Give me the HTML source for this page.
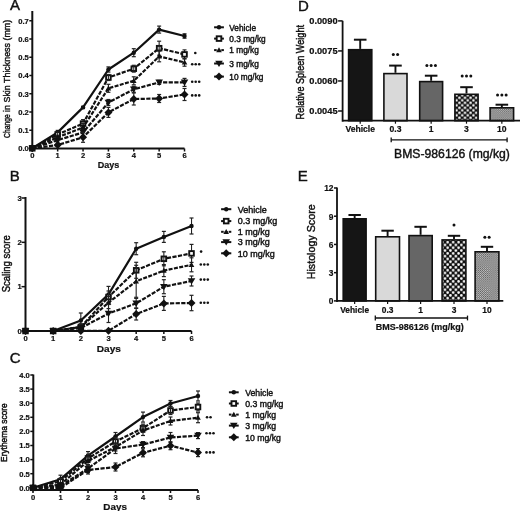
<!DOCTYPE html><html><head><meta charset="utf-8"><style>html,body{margin:0;padding:0;background:#fff;width:520px;height:511px;overflow:hidden}svg{display:block;filter:grayscale(1) blur(0.3px)}</style></head><body>
<svg width="520" height="511" viewBox="0 0 520 511" font-family='"Liberation Sans", sans-serif'>
<defs><pattern id="dotsD" x="458" y="96.55" width="5.6" height="5.0" patternUnits="userSpaceOnUse"><rect width="5.6" height="5.0" fill="#111"/><circle cx="1.4" cy="1.25" r="1.25" fill="#fff"/><circle cx="4.2" cy="3.75" r="1.25" fill="#fff"/></pattern><pattern id="dotsE" x="446.34" y="240.8" width="5.45" height="5.6" patternUnits="userSpaceOnUse"><rect width="5.45" height="5.6" fill="#111"/><circle cx="1.36" cy="1.4" r="1.3" fill="#fff"/><circle cx="4.09" cy="4.2" r="1.3" fill="#fff"/></pattern><pattern id="fine" x="0" y="0" width="2.1" height="2.1" patternUnits="userSpaceOnUse"><rect width="2.1" height="2.1" fill="#c8c8c8"/><rect width="1.05" height="1.05" fill="#5a5a5a"/><rect x="1.05" y="1.05" width="1.05" height="1.05" fill="#5a5a5a"/></pattern></defs>
<rect width="520" height="511" fill="#fff"/>
<line x1="32.3" y1="11" x2="32.3" y2="149.0" stroke="#111" stroke-width="2"/>
<line x1="31.299999999999997" y1="148.5" x2="184.5" y2="148.5" stroke="#111" stroke-width="2"/>
<line x1="29.299999999999997" y1="148.5" x2="32.3" y2="148.5" stroke="#111" stroke-width="1.5"/>
<text x="28.799999999999997" y="148.8" font-size="7.6" font-weight="bold" text-anchor="end" dominant-baseline="central" fill="#111" stroke="#111" stroke-width="0.2" >0.0</text>
<line x1="29.299999999999997" y1="130.25" x2="32.3" y2="130.25" stroke="#111" stroke-width="1.5"/>
<text x="28.799999999999997" y="130.55" font-size="7.6" font-weight="bold" text-anchor="end" dominant-baseline="central" fill="#111" stroke="#111" stroke-width="0.2" >0.1</text>
<line x1="29.299999999999997" y1="112.0" x2="32.3" y2="112.0" stroke="#111" stroke-width="1.5"/>
<text x="28.799999999999997" y="112.3" font-size="7.6" font-weight="bold" text-anchor="end" dominant-baseline="central" fill="#111" stroke="#111" stroke-width="0.2" >0.2</text>
<line x1="29.299999999999997" y1="93.75" x2="32.3" y2="93.75" stroke="#111" stroke-width="1.5"/>
<text x="28.799999999999997" y="94.05" font-size="7.6" font-weight="bold" text-anchor="end" dominant-baseline="central" fill="#111" stroke="#111" stroke-width="0.2" >0.3</text>
<line x1="29.299999999999997" y1="75.5" x2="32.3" y2="75.5" stroke="#111" stroke-width="1.5"/>
<text x="28.799999999999997" y="75.8" font-size="7.6" font-weight="bold" text-anchor="end" dominant-baseline="central" fill="#111" stroke="#111" stroke-width="0.2" >0.4</text>
<line x1="29.299999999999997" y1="57.25" x2="32.3" y2="57.25" stroke="#111" stroke-width="1.5"/>
<text x="28.799999999999997" y="57.55" font-size="7.6" font-weight="bold" text-anchor="end" dominant-baseline="central" fill="#111" stroke="#111" stroke-width="0.2" >0.5</text>
<line x1="29.299999999999997" y1="39.0" x2="32.3" y2="39.0" stroke="#111" stroke-width="1.5"/>
<text x="28.799999999999997" y="39.3" font-size="7.6" font-weight="bold" text-anchor="end" dominant-baseline="central" fill="#111" stroke="#111" stroke-width="0.2" >0.6</text>
<line x1="29.299999999999997" y1="20.750000000000014" x2="32.3" y2="20.750000000000014" stroke="#111" stroke-width="1.5"/>
<text x="28.799999999999997" y="21.050000000000015" font-size="7.6" font-weight="bold" text-anchor="end" dominant-baseline="central" fill="#111" stroke="#111" stroke-width="0.2" >0.7</text>
<line x1="32.3" y1="148.5" x2="32.3" y2="151.5" stroke="#111" stroke-width="1.5"/>
<text x="32.3" y="155.5" font-size="7.6" font-weight="bold" text-anchor="middle" dominant-baseline="central" fill="#111" stroke="#111" stroke-width="0.2" >0</text>
<line x1="57.67" y1="148.5" x2="57.67" y2="151.5" stroke="#111" stroke-width="1.5"/>
<text x="57.67" y="155.5" font-size="7.6" font-weight="bold" text-anchor="middle" dominant-baseline="central" fill="#111" stroke="#111" stroke-width="0.2" >1</text>
<line x1="83.03999999999999" y1="148.5" x2="83.03999999999999" y2="151.5" stroke="#111" stroke-width="1.5"/>
<text x="83.03999999999999" y="155.5" font-size="7.6" font-weight="bold" text-anchor="middle" dominant-baseline="central" fill="#111" stroke="#111" stroke-width="0.2" >2</text>
<line x1="108.41" y1="148.5" x2="108.41" y2="151.5" stroke="#111" stroke-width="1.5"/>
<text x="108.41" y="155.5" font-size="7.6" font-weight="bold" text-anchor="middle" dominant-baseline="central" fill="#111" stroke="#111" stroke-width="0.2" >3</text>
<line x1="133.78" y1="148.5" x2="133.78" y2="151.5" stroke="#111" stroke-width="1.5"/>
<text x="133.78" y="155.5" font-size="7.6" font-weight="bold" text-anchor="middle" dominant-baseline="central" fill="#111" stroke="#111" stroke-width="0.2" >4</text>
<line x1="159.15" y1="148.5" x2="159.15" y2="151.5" stroke="#111" stroke-width="1.5"/>
<text x="159.15" y="155.5" font-size="7.6" font-weight="bold" text-anchor="middle" dominant-baseline="central" fill="#111" stroke="#111" stroke-width="0.2" >5</text>
<line x1="184.51999999999998" y1="148.5" x2="184.51999999999998" y2="151.5" stroke="#111" stroke-width="1.5"/>
<text x="184.51999999999998" y="155.5" font-size="7.6" font-weight="bold" text-anchor="middle" dominant-baseline="central" fill="#111" stroke="#111" stroke-width="0.2" >6</text>
<text x="108.5" y="165.2" font-size="9" font-weight="bold" text-anchor="middle" dominant-baseline="central" fill="#111" stroke="#111" stroke-width="0.2" >Days</text>
<text x="0" y="0" font-size="8.6" text-anchor="start" dominant-baseline="central" transform="translate(7.3 137.9) rotate(-90)" fill="#111" stroke="#111" stroke-width="0.4" textLength="23.6" lengthAdjust="spacingAndGlyphs">Change</text>
<text x="0" y="0" font-size="8.9" text-anchor="start" dominant-baseline="central" transform="translate(7.3 111.9) rotate(-90)" fill="#111" stroke="#111" stroke-width="0.4">in Skin Thickness (mm)</text>
<text x="10.0" y="10.4" font-size="15" text-anchor="start" fill="#111" stroke="#111" stroke-width="0.4" >A</text>
<line x1="57.67" y1="130.4" x2="57.67" y2="134.4" stroke="#222" stroke-width="1.1"/>
<line x1="55.67" y1="130.4" x2="59.67" y2="130.4" stroke="#222" stroke-width="1.2"/>
<line x1="55.67" y1="134.4" x2="59.67" y2="134.4" stroke="#222" stroke-width="1.2"/>
<line x1="83.03999999999999" y1="106.4" x2="83.03999999999999" y2="108.4" stroke="#222" stroke-width="1.1"/>
<line x1="81.03999999999999" y1="106.4" x2="85.03999999999999" y2="106.4" stroke="#222" stroke-width="1.2"/>
<line x1="81.03999999999999" y1="108.4" x2="85.03999999999999" y2="108.4" stroke="#222" stroke-width="1.2"/>
<line x1="108.41" y1="66.9" x2="108.41" y2="72.1" stroke="#222" stroke-width="1.1"/>
<line x1="106.41" y1="66.9" x2="110.41" y2="66.9" stroke="#222" stroke-width="1.2"/>
<line x1="106.41" y1="72.1" x2="110.41" y2="72.1" stroke="#222" stroke-width="1.2"/>
<line x1="133.78" y1="48.7" x2="133.78" y2="56.7" stroke="#222" stroke-width="1.1"/>
<line x1="131.78" y1="48.7" x2="135.78" y2="48.7" stroke="#222" stroke-width="1.2"/>
<line x1="131.78" y1="56.7" x2="135.78" y2="56.7" stroke="#222" stroke-width="1.2"/>
<line x1="159.15" y1="26.1" x2="159.15" y2="33.1" stroke="#222" stroke-width="1.1"/>
<line x1="157.15" y1="26.1" x2="161.15" y2="26.1" stroke="#222" stroke-width="1.2"/>
<line x1="157.15" y1="33.1" x2="161.15" y2="33.1" stroke="#222" stroke-width="1.2"/>
<line x1="184.51999999999998" y1="33.8" x2="184.51999999999998" y2="38.2" stroke="#222" stroke-width="1.1"/>
<line x1="182.51999999999998" y1="33.8" x2="186.51999999999998" y2="33.8" stroke="#222" stroke-width="1.2"/>
<line x1="182.51999999999998" y1="38.2" x2="186.51999999999998" y2="38.2" stroke="#222" stroke-width="1.2"/>
<polyline points="32.30,148.30 57.67,132.40 83.04,107.40 108.41,69.50 133.78,52.70 159.15,29.60 184.52,36.00" fill="none" stroke="#111" stroke-width="2.2" stroke-linejoin="round"/>
<circle cx="32.3" cy="148.3" r="2.2" fill="#111"/>
<circle cx="57.67" cy="132.4" r="2.2" fill="#111"/>
<circle cx="83.03999999999999" cy="107.4" r="2.2" fill="#111"/>
<circle cx="108.41" cy="69.5" r="2.2" fill="#111"/>
<circle cx="133.78" cy="52.7" r="2.2" fill="#111"/>
<circle cx="159.15" cy="29.6" r="2.2" fill="#111"/>
<circle cx="184.51999999999998" cy="36.0" r="2.2" fill="#111"/>
<line x1="184.51999999999998" y1="49.9" x2="184.51999999999998" y2="58.9" stroke="#222" stroke-width="1.1"/>
<line x1="182.51999999999998" y1="49.9" x2="186.51999999999998" y2="49.9" stroke="#222" stroke-width="1.2"/>
<line x1="182.51999999999998" y1="58.9" x2="186.51999999999998" y2="58.9" stroke="#222" stroke-width="1.2"/>
<polyline points="32.30,148.30 57.67,134.40 83.04,123.60 108.41,77.50 133.78,68.70 159.15,48.20 184.52,54.40" fill="none" stroke="#111" stroke-width="2.2" stroke-linejoin="round" stroke-dasharray="4.2 1.4"/>
<rect x="29.999999999999996" y="146.0" width="4.6" height="4.6" fill="#fff" stroke="#111" stroke-width="1.9"/>
<rect x="55.370000000000005" y="132.1" width="4.6" height="4.6" fill="#fff" stroke="#111" stroke-width="1.9"/>
<rect x="80.74" y="121.3" width="4.6" height="4.6" fill="#fff" stroke="#111" stroke-width="1.9"/>
<rect x="106.11" y="75.2" width="4.6" height="4.6" fill="#fff" stroke="#111" stroke-width="1.9"/>
<rect x="131.48" y="66.4" width="4.6" height="4.6" fill="#fff" stroke="#111" stroke-width="1.9"/>
<rect x="156.85" y="45.900000000000006" width="4.6" height="4.6" fill="#fff" stroke="#111" stroke-width="1.9"/>
<rect x="182.21999999999997" y="52.1" width="4.6" height="4.6" fill="#fff" stroke="#111" stroke-width="1.9"/>
<line x1="57.67" y1="131.9" x2="57.67" y2="136.9" stroke="#222" stroke-width="1.1"/>
<line x1="55.67" y1="131.9" x2="59.67" y2="131.9" stroke="#222" stroke-width="1.2"/>
<line x1="55.67" y1="136.9" x2="59.67" y2="136.9" stroke="#222" stroke-width="1.2"/>
<line x1="83.03999999999999" y1="119.6" x2="83.03999999999999" y2="127.6" stroke="#222" stroke-width="1.1"/>
<line x1="81.03999999999999" y1="119.6" x2="85.03999999999999" y2="119.6" stroke="#222" stroke-width="1.2"/>
<line x1="81.03999999999999" y1="127.6" x2="85.03999999999999" y2="127.6" stroke="#222" stroke-width="1.2"/>
<line x1="108.41" y1="74.5" x2="108.41" y2="80.5" stroke="#222" stroke-width="1.1"/>
<line x1="106.41" y1="74.5" x2="110.41" y2="74.5" stroke="#222" stroke-width="1.2"/>
<line x1="106.41" y1="80.5" x2="110.41" y2="80.5" stroke="#222" stroke-width="1.2"/>
<line x1="133.78" y1="65.3" x2="133.78" y2="72.10000000000001" stroke="#222" stroke-width="1.1"/>
<line x1="131.78" y1="65.3" x2="135.78" y2="65.3" stroke="#222" stroke-width="1.2"/>
<line x1="131.78" y1="72.10000000000001" x2="135.78" y2="72.10000000000001" stroke="#222" stroke-width="1.2"/>
<line x1="159.15" y1="41.2" x2="159.15" y2="55.2" stroke="#222" stroke-width="1.1"/>
<line x1="157.15" y1="41.2" x2="161.15" y2="41.2" stroke="#222" stroke-width="1.2"/>
<line x1="157.15" y1="55.2" x2="161.15" y2="55.2" stroke="#222" stroke-width="1.2"/>
<line x1="57.67" y1="135.3" x2="57.67" y2="139.3" stroke="#222" stroke-width="1.1"/>
<line x1="55.67" y1="135.3" x2="59.67" y2="135.3" stroke="#222" stroke-width="1.2"/>
<line x1="55.67" y1="139.3" x2="59.67" y2="139.3" stroke="#222" stroke-width="1.2"/>
<line x1="83.03999999999999" y1="123.5" x2="83.03999999999999" y2="131.5" stroke="#222" stroke-width="1.1"/>
<line x1="81.03999999999999" y1="123.5" x2="85.03999999999999" y2="123.5" stroke="#222" stroke-width="1.2"/>
<line x1="81.03999999999999" y1="131.5" x2="85.03999999999999" y2="131.5" stroke="#222" stroke-width="1.2"/>
<line x1="108.41" y1="84.3" x2="108.41" y2="92.3" stroke="#222" stroke-width="1.1"/>
<line x1="106.41" y1="84.3" x2="110.41" y2="84.3" stroke="#222" stroke-width="1.2"/>
<line x1="106.41" y1="92.3" x2="110.41" y2="92.3" stroke="#222" stroke-width="1.2"/>
<line x1="133.78" y1="76.8" x2="133.78" y2="84.8" stroke="#222" stroke-width="1.1"/>
<line x1="131.78" y1="76.8" x2="135.78" y2="76.8" stroke="#222" stroke-width="1.2"/>
<line x1="131.78" y1="84.8" x2="135.78" y2="84.8" stroke="#222" stroke-width="1.2"/>
<line x1="159.15" y1="51.0" x2="159.15" y2="61.8" stroke="#222" stroke-width="1.1"/>
<line x1="157.15" y1="51.0" x2="161.15" y2="51.0" stroke="#222" stroke-width="1.2"/>
<line x1="157.15" y1="61.8" x2="161.15" y2="61.8" stroke="#222" stroke-width="1.2"/>
<line x1="184.51999999999998" y1="58.6" x2="184.51999999999998" y2="66.2" stroke="#222" stroke-width="1.1"/>
<line x1="182.51999999999998" y1="58.6" x2="186.51999999999998" y2="58.6" stroke="#222" stroke-width="1.2"/>
<line x1="182.51999999999998" y1="66.2" x2="186.51999999999998" y2="66.2" stroke="#222" stroke-width="1.2"/>
<polyline points="32.30,148.30 57.67,137.30 83.04,127.50 108.41,88.30 133.78,80.80 159.15,56.40 184.52,62.40" fill="none" stroke="#111" stroke-width="2.2" stroke-linejoin="round" stroke-dasharray="4 1.4"/>
<polygon points="32.3,145.4 35.099999999999994,150.4 29.499999999999996,150.4" fill="#111"/>
<polygon points="57.67,134.4 60.47,139.4 54.870000000000005,139.4" fill="#111"/>
<polygon points="83.03999999999999,124.6 85.83999999999999,129.6 80.24,129.6" fill="#111"/>
<polygon points="108.41,85.39999999999999 111.21,90.39999999999999 105.61,90.39999999999999" fill="#111"/>
<polygon points="133.78,77.89999999999999 136.58,82.89999999999999 130.98,82.89999999999999" fill="#111"/>
<polygon points="159.15,53.5 161.95000000000002,58.5 156.35,58.5" fill="#111"/>
<polygon points="184.51999999999998,59.5 187.32,64.5 181.71999999999997,64.5" fill="#111"/>
<line x1="57.67" y1="138.2" x2="57.67" y2="142.2" stroke="#222" stroke-width="1.1"/>
<line x1="55.67" y1="138.2" x2="59.67" y2="138.2" stroke="#222" stroke-width="1.2"/>
<line x1="55.67" y1="142.2" x2="59.67" y2="142.2" stroke="#222" stroke-width="1.2"/>
<line x1="83.03999999999999" y1="129.4" x2="83.03999999999999" y2="135.4" stroke="#222" stroke-width="1.1"/>
<line x1="81.03999999999999" y1="129.4" x2="85.03999999999999" y2="129.4" stroke="#222" stroke-width="1.2"/>
<line x1="81.03999999999999" y1="135.4" x2="85.03999999999999" y2="135.4" stroke="#222" stroke-width="1.2"/>
<line x1="108.41" y1="99.5" x2="108.41" y2="105.5" stroke="#222" stroke-width="1.1"/>
<line x1="106.41" y1="99.5" x2="110.41" y2="99.5" stroke="#222" stroke-width="1.2"/>
<line x1="106.41" y1="105.5" x2="110.41" y2="105.5" stroke="#222" stroke-width="1.2"/>
<line x1="133.78" y1="86.3" x2="133.78" y2="92.3" stroke="#222" stroke-width="1.1"/>
<line x1="131.78" y1="86.3" x2="135.78" y2="86.3" stroke="#222" stroke-width="1.2"/>
<line x1="131.78" y1="92.3" x2="135.78" y2="92.3" stroke="#222" stroke-width="1.2"/>
<line x1="159.15" y1="80.4" x2="159.15" y2="84.4" stroke="#222" stroke-width="1.1"/>
<line x1="157.15" y1="80.4" x2="161.15" y2="80.4" stroke="#222" stroke-width="1.2"/>
<line x1="157.15" y1="84.4" x2="161.15" y2="84.4" stroke="#222" stroke-width="1.2"/>
<line x1="184.51999999999998" y1="78.4" x2="184.51999999999998" y2="86.4" stroke="#222" stroke-width="1.1"/>
<line x1="182.51999999999998" y1="78.4" x2="186.51999999999998" y2="78.4" stroke="#222" stroke-width="1.2"/>
<line x1="182.51999999999998" y1="86.4" x2="186.51999999999998" y2="86.4" stroke="#222" stroke-width="1.2"/>
<polyline points="32.30,148.30 57.67,140.20 83.04,132.40 108.41,102.50 133.78,89.30 159.15,82.40 184.52,82.40" fill="none" stroke="#111" stroke-width="2.2" stroke-linejoin="round" stroke-dasharray="4.2 1.4"/>
<polygon points="32.3,151.8 36.099999999999994,145.5 28.499999999999996,145.5" fill="#111"/>
<polygon points="57.67,143.7 61.47,137.39999999999998 53.870000000000005,137.39999999999998" fill="#111"/>
<polygon points="83.03999999999999,135.9 86.83999999999999,129.6 79.24,129.6" fill="#111"/>
<polygon points="108.41,106.0 112.21,99.7 104.61,99.7" fill="#111"/>
<polygon points="133.78,92.8 137.58,86.5 129.98,86.5" fill="#111"/>
<polygon points="159.15,85.9 162.95000000000002,79.60000000000001 155.35,79.60000000000001" fill="#111"/>
<polygon points="184.51999999999998,85.9 188.32,79.60000000000001 180.71999999999997,79.60000000000001" fill="#111"/>
<line x1="57.67" y1="143.5" x2="57.67" y2="146.5" stroke="#222" stroke-width="1.1"/>
<line x1="55.67" y1="143.5" x2="59.67" y2="143.5" stroke="#222" stroke-width="1.2"/>
<line x1="55.67" y1="146.5" x2="59.67" y2="146.5" stroke="#222" stroke-width="1.2"/>
<line x1="83.03999999999999" y1="132.3" x2="83.03999999999999" y2="142.3" stroke="#222" stroke-width="1.1"/>
<line x1="81.03999999999999" y1="132.3" x2="85.03999999999999" y2="132.3" stroke="#222" stroke-width="1.2"/>
<line x1="81.03999999999999" y1="142.3" x2="85.03999999999999" y2="142.3" stroke="#222" stroke-width="1.2"/>
<line x1="108.41" y1="107.4" x2="108.41" y2="117.4" stroke="#222" stroke-width="1.1"/>
<line x1="106.41" y1="107.4" x2="110.41" y2="107.4" stroke="#222" stroke-width="1.2"/>
<line x1="106.41" y1="117.4" x2="110.41" y2="117.4" stroke="#222" stroke-width="1.2"/>
<line x1="133.78" y1="93.0" x2="133.78" y2="105.0" stroke="#222" stroke-width="1.1"/>
<line x1="131.78" y1="93.0" x2="135.78" y2="93.0" stroke="#222" stroke-width="1.2"/>
<line x1="131.78" y1="105.0" x2="135.78" y2="105.0" stroke="#222" stroke-width="1.2"/>
<line x1="159.15" y1="94.5" x2="159.15" y2="102.5" stroke="#222" stroke-width="1.1"/>
<line x1="157.15" y1="94.5" x2="161.15" y2="94.5" stroke="#222" stroke-width="1.2"/>
<line x1="157.15" y1="102.5" x2="161.15" y2="102.5" stroke="#222" stroke-width="1.2"/>
<line x1="184.51999999999998" y1="88.5" x2="184.51999999999998" y2="100.5" stroke="#222" stroke-width="1.1"/>
<line x1="182.51999999999998" y1="88.5" x2="186.51999999999998" y2="88.5" stroke="#222" stroke-width="1.2"/>
<line x1="182.51999999999998" y1="100.5" x2="186.51999999999998" y2="100.5" stroke="#222" stroke-width="1.2"/>
<polyline points="32.30,148.30 57.67,145.00 83.04,137.30 108.41,112.40 133.78,99.00 159.15,98.50 184.52,94.50" fill="none" stroke="#111" stroke-width="2.2" stroke-linejoin="round" stroke-dasharray="4.2 1.4"/>
<polygon points="32.3,144.3 36.3,148.3 32.3,152.3 28.299999999999997,148.3" fill="#111"/>
<polygon points="57.67,141.0 61.67,145.0 57.67,149.0 53.67,145.0" fill="#111"/>
<polygon points="83.03999999999999,133.3 87.03999999999999,137.3 83.03999999999999,141.3 79.03999999999999,137.3" fill="#111"/>
<polygon points="108.41,108.4 112.41,112.4 108.41,116.4 104.41,112.4" fill="#111"/>
<polygon points="133.78,95.0 137.78,99.0 133.78,103.0 129.78,99.0" fill="#111"/>
<polygon points="159.15,94.5 163.15,98.5 159.15,102.5 155.15,98.5" fill="#111"/>
<polygon points="184.51999999999998,90.5 188.51999999999998,94.5 184.51999999999998,98.5 180.51999999999998,94.5" fill="#111"/>
<circle cx="195.30" cy="53.0" r="1.3" fill="#111"/>
<circle cx="192.20" cy="64.2" r="1.3" fill="#111"/>
<circle cx="195.70" cy="64.2" r="1.3" fill="#111"/>
<circle cx="199.20" cy="64.2" r="1.3" fill="#111"/>
<circle cx="192.20" cy="81.7" r="1.3" fill="#111"/>
<circle cx="195.70" cy="81.7" r="1.3" fill="#111"/>
<circle cx="199.20" cy="81.7" r="1.3" fill="#111"/>
<circle cx="192.20" cy="95.4" r="1.3" fill="#111"/>
<circle cx="195.70" cy="95.4" r="1.3" fill="#111"/>
<circle cx="199.20" cy="95.4" r="1.3" fill="#111"/>
<line x1="214.1" y1="27.3" x2="223.9" y2="27.3" stroke="#111" stroke-width="2"/>
<circle cx="219.0" cy="27.3" r="2.2" fill="#111"/>
<text x="229.3" y="27.6" font-size="8.3" text-anchor="start" dominant-baseline="central" fill="#111" stroke="#111" stroke-width="0.4" >Vehicle</text>
<line x1="214.1" y1="38.6" x2="223.9" y2="38.6" stroke="#111" stroke-width="2"/>
<rect x="216.7" y="36.300000000000004" width="4.6" height="4.6" fill="#fff" stroke="#111" stroke-width="1.9"/>
<text x="229.3" y="38.9" font-size="8.3" text-anchor="start" dominant-baseline="central" fill="#111" stroke="#111" stroke-width="0.4" >0.3 mg/kg</text>
<line x1="214.1" y1="50.1" x2="216.7" y2="50.1" stroke="#111" stroke-width="2"/>
<line x1="221.3" y1="50.1" x2="223.9" y2="50.1" stroke="#111" stroke-width="2"/>
<line x1="217.7" y1="50.1" x2="220.3" y2="50.1" stroke="#111" stroke-width="1.6"/>
<polygon points="219.0,47.2 221.8,52.2 216.2,52.2" fill="#111"/>
<text x="229.3" y="50.4" font-size="8.3" text-anchor="start" dominant-baseline="central" fill="#111" stroke="#111" stroke-width="0.4" >1 mg/kg</text>
<line x1="214.1" y1="63.5" x2="223.9" y2="63.5" stroke="#111" stroke-width="2"/>
<polygon points="219.0,67.0 222.8,60.7 215.2,60.7" fill="#111"/>
<text x="229.3" y="63.8" font-size="8.3" text-anchor="start" dominant-baseline="central" fill="#111" stroke="#111" stroke-width="0.4" >3 mg/kg</text>
<line x1="214.1" y1="76.6" x2="223.9" y2="76.6" stroke="#111" stroke-width="2"/>
<polygon points="219.0,72.6 223.0,76.6 219.0,80.6 215.0,76.6" fill="#111"/>
<text x="229.3" y="76.89999999999999" font-size="8.3" text-anchor="start" dominant-baseline="central" fill="#111" stroke="#111" stroke-width="0.4" >10 mg/kg</text>
<line x1="25.5" y1="197" x2="25.5" y2="331.5" stroke="#111" stroke-width="2"/>
<line x1="24.5" y1="331" x2="191.5" y2="331" stroke="#111" stroke-width="2"/>
<line x1="21.5" y1="331.0" x2="25.5" y2="331.0" stroke="#111" stroke-width="1.5"/>
<text x="21.7" y="331.3" font-size="7.6" font-weight="bold" text-anchor="end" dominant-baseline="central" fill="#111" stroke="#111" stroke-width="0.2" >0</text>
<line x1="21.5" y1="286.67" x2="25.5" y2="286.67" stroke="#111" stroke-width="1.5"/>
<text x="21.7" y="286.97" font-size="7.6" font-weight="bold" text-anchor="end" dominant-baseline="central" fill="#111" stroke="#111" stroke-width="0.2" >1</text>
<line x1="21.5" y1="242.34" x2="25.5" y2="242.34" stroke="#111" stroke-width="1.5"/>
<text x="21.7" y="242.64000000000001" font-size="7.6" font-weight="bold" text-anchor="end" dominant-baseline="central" fill="#111" stroke="#111" stroke-width="0.2" >2</text>
<line x1="21.5" y1="198.01" x2="25.5" y2="198.01" stroke="#111" stroke-width="1.5"/>
<text x="21.7" y="198.31" font-size="7.6" font-weight="bold" text-anchor="end" dominant-baseline="central" fill="#111" stroke="#111" stroke-width="0.2" >3</text>
<line x1="25.5" y1="331" x2="25.5" y2="334" stroke="#111" stroke-width="1.5"/>
<text x="25.5" y="338.7" font-size="7.6" font-weight="bold" text-anchor="middle" dominant-baseline="central" fill="#111" stroke="#111" stroke-width="0.2" >0</text>
<line x1="53.17" y1="331" x2="53.17" y2="334" stroke="#111" stroke-width="1.5"/>
<text x="53.17" y="338.7" font-size="7.6" font-weight="bold" text-anchor="middle" dominant-baseline="central" fill="#111" stroke="#111" stroke-width="0.2" >1</text>
<line x1="80.84" y1="331" x2="80.84" y2="334" stroke="#111" stroke-width="1.5"/>
<text x="80.84" y="338.7" font-size="7.6" font-weight="bold" text-anchor="middle" dominant-baseline="central" fill="#111" stroke="#111" stroke-width="0.2" >2</text>
<line x1="108.51" y1="331" x2="108.51" y2="334" stroke="#111" stroke-width="1.5"/>
<text x="108.51" y="338.7" font-size="7.6" font-weight="bold" text-anchor="middle" dominant-baseline="central" fill="#111" stroke="#111" stroke-width="0.2" >3</text>
<line x1="136.18" y1="331" x2="136.18" y2="334" stroke="#111" stroke-width="1.5"/>
<text x="136.18" y="338.7" font-size="7.6" font-weight="bold" text-anchor="middle" dominant-baseline="central" fill="#111" stroke="#111" stroke-width="0.2" >4</text>
<line x1="163.85000000000002" y1="331" x2="163.85000000000002" y2="334" stroke="#111" stroke-width="1.5"/>
<text x="163.85000000000002" y="338.7" font-size="7.6" font-weight="bold" text-anchor="middle" dominant-baseline="central" fill="#111" stroke="#111" stroke-width="0.2" >5</text>
<line x1="191.52" y1="331" x2="191.52" y2="334" stroke="#111" stroke-width="1.5"/>
<text x="191.52" y="338.7" font-size="7.6" font-weight="bold" text-anchor="middle" dominant-baseline="central" fill="#111" stroke="#111" stroke-width="0.2" >6</text>
<text x="108.8" y="348.8" font-size="9" font-weight="bold" text-anchor="middle" dominant-baseline="central" transform="translate(108.8 348.8) scale(1.12 1) translate(-108.8 -348.8)" fill="#111" stroke="#111" stroke-width="0.2" >Days</text>
<text x="0" y="0" font-size="9.5" text-anchor="middle" dominant-baseline="central" transform="translate(5.8 263.8) scale(1.13 1) rotate(-90)" fill="#111" stroke="#111" stroke-width="0.4" >Scaling score</text>
<text x="9.7" y="181.3" font-size="15" text-anchor="start" fill="#111" stroke="#111" stroke-width="0.4" >B</text>
<line x1="80.84" y1="313.0" x2="80.84" y2="328.0" stroke="#222" stroke-width="1.1"/>
<line x1="78.84" y1="313.0" x2="82.84" y2="313.0" stroke="#222" stroke-width="1.2"/>
<line x1="78.84" y1="328.0" x2="82.84" y2="328.0" stroke="#222" stroke-width="1.2"/>
<line x1="108.51" y1="286.4" x2="108.51" y2="302.4" stroke="#222" stroke-width="1.1"/>
<line x1="106.51" y1="286.4" x2="110.51" y2="286.4" stroke="#222" stroke-width="1.2"/>
<line x1="106.51" y1="302.4" x2="110.51" y2="302.4" stroke="#222" stroke-width="1.2"/>
<line x1="136.18" y1="242.7" x2="136.18" y2="254.7" stroke="#222" stroke-width="1.1"/>
<line x1="134.18" y1="242.7" x2="138.18" y2="242.7" stroke="#222" stroke-width="1.2"/>
<line x1="134.18" y1="254.7" x2="138.18" y2="254.7" stroke="#222" stroke-width="1.2"/>
<line x1="163.85000000000002" y1="231.4" x2="163.85000000000002" y2="242.4" stroke="#222" stroke-width="1.1"/>
<line x1="161.85000000000002" y1="231.4" x2="165.85000000000002" y2="231.4" stroke="#222" stroke-width="1.2"/>
<line x1="161.85000000000002" y1="242.4" x2="165.85000000000002" y2="242.4" stroke="#222" stroke-width="1.2"/>
<line x1="191.52" y1="218.0" x2="191.52" y2="234.0" stroke="#222" stroke-width="1.1"/>
<line x1="189.52" y1="218.0" x2="193.52" y2="218.0" stroke="#222" stroke-width="1.2"/>
<line x1="189.52" y1="234.0" x2="193.52" y2="234.0" stroke="#222" stroke-width="1.2"/>
<polyline points="25.50,331.00 53.17,331.00 80.84,320.50 108.51,294.40 136.18,248.70 163.85,236.90 191.52,226.00" fill="none" stroke="#111" stroke-width="2.2" stroke-linejoin="round"/>
<circle cx="25.5" cy="331" r="2.2" fill="#111"/>
<circle cx="53.17" cy="331" r="2.2" fill="#111"/>
<circle cx="80.84" cy="320.5" r="2.2" fill="#111"/>
<circle cx="108.51" cy="294.4" r="2.2" fill="#111"/>
<circle cx="136.18" cy="248.7" r="2.2" fill="#111"/>
<circle cx="163.85000000000002" cy="236.9" r="2.2" fill="#111"/>
<circle cx="191.52" cy="226.0" r="2.2" fill="#111"/>
<line x1="191.52" y1="244.4" x2="191.52" y2="262.4" stroke="#222" stroke-width="1.1"/>
<line x1="189.52" y1="244.4" x2="193.52" y2="244.4" stroke="#222" stroke-width="1.2"/>
<line x1="189.52" y1="262.4" x2="193.52" y2="262.4" stroke="#222" stroke-width="1.2"/>
<polyline points="25.50,331.00 53.17,331.00 80.84,327.00 108.51,297.00 136.18,270.30 163.85,258.80 191.52,253.40" fill="none" stroke="#111" stroke-width="2.2" stroke-linejoin="round" stroke-dasharray="4.2 1.4"/>
<rect x="23.2" y="328.7" width="4.6" height="4.6" fill="#fff" stroke="#111" stroke-width="1.9"/>
<rect x="50.870000000000005" y="328.7" width="4.6" height="4.6" fill="#fff" stroke="#111" stroke-width="1.9"/>
<rect x="78.54" y="324.7" width="4.6" height="4.6" fill="#fff" stroke="#111" stroke-width="1.9"/>
<rect x="106.21000000000001" y="294.7" width="4.6" height="4.6" fill="#fff" stroke="#111" stroke-width="1.9"/>
<rect x="133.88" y="268.0" width="4.6" height="4.6" fill="#fff" stroke="#111" stroke-width="1.9"/>
<rect x="161.55" y="256.5" width="4.6" height="4.6" fill="#fff" stroke="#111" stroke-width="1.9"/>
<rect x="189.22" y="251.1" width="4.6" height="4.6" fill="#fff" stroke="#111" stroke-width="1.9"/>
<line x1="80.84" y1="324.0" x2="80.84" y2="330.0" stroke="#222" stroke-width="1.1"/>
<line x1="78.84" y1="324.0" x2="82.84" y2="324.0" stroke="#222" stroke-width="1.2"/>
<line x1="78.84" y1="330.0" x2="82.84" y2="330.0" stroke="#222" stroke-width="1.2"/>
<line x1="108.51" y1="291.0" x2="108.51" y2="303.0" stroke="#222" stroke-width="1.1"/>
<line x1="106.51" y1="291.0" x2="110.51" y2="291.0" stroke="#222" stroke-width="1.2"/>
<line x1="106.51" y1="303.0" x2="110.51" y2="303.0" stroke="#222" stroke-width="1.2"/>
<line x1="136.18" y1="262.3" x2="136.18" y2="278.3" stroke="#222" stroke-width="1.1"/>
<line x1="134.18" y1="262.3" x2="138.18" y2="262.3" stroke="#222" stroke-width="1.2"/>
<line x1="134.18" y1="278.3" x2="138.18" y2="278.3" stroke="#222" stroke-width="1.2"/>
<line x1="163.85000000000002" y1="251.8" x2="163.85000000000002" y2="265.8" stroke="#222" stroke-width="1.1"/>
<line x1="161.85000000000002" y1="251.8" x2="165.85000000000002" y2="251.8" stroke="#222" stroke-width="1.2"/>
<line x1="161.85000000000002" y1="265.8" x2="165.85000000000002" y2="265.8" stroke="#222" stroke-width="1.2"/>
<line x1="80.84" y1="324.0" x2="80.84" y2="330.0" stroke="#222" stroke-width="1.1"/>
<line x1="78.84" y1="324.0" x2="82.84" y2="324.0" stroke="#222" stroke-width="1.2"/>
<line x1="78.84" y1="330.0" x2="82.84" y2="330.0" stroke="#222" stroke-width="1.2"/>
<line x1="108.51" y1="296.6" x2="108.51" y2="308.6" stroke="#222" stroke-width="1.1"/>
<line x1="106.51" y1="296.6" x2="110.51" y2="296.6" stroke="#222" stroke-width="1.2"/>
<line x1="106.51" y1="308.6" x2="110.51" y2="308.6" stroke="#222" stroke-width="1.2"/>
<line x1="136.18" y1="265.3" x2="136.18" y2="297.3" stroke="#222" stroke-width="1.1"/>
<line x1="134.18" y1="265.3" x2="138.18" y2="265.3" stroke="#222" stroke-width="1.2"/>
<line x1="134.18" y1="297.3" x2="138.18" y2="297.3" stroke="#222" stroke-width="1.2"/>
<line x1="163.85000000000002" y1="264.6" x2="163.85000000000002" y2="276.6" stroke="#222" stroke-width="1.1"/>
<line x1="161.85000000000002" y1="264.6" x2="165.85000000000002" y2="264.6" stroke="#222" stroke-width="1.2"/>
<line x1="161.85000000000002" y1="276.6" x2="165.85000000000002" y2="276.6" stroke="#222" stroke-width="1.2"/>
<line x1="191.52" y1="257.8" x2="191.52" y2="271.8" stroke="#222" stroke-width="1.1"/>
<line x1="189.52" y1="257.8" x2="193.52" y2="257.8" stroke="#222" stroke-width="1.2"/>
<line x1="189.52" y1="271.8" x2="193.52" y2="271.8" stroke="#222" stroke-width="1.2"/>
<polyline points="25.50,331.00 53.17,331.00 80.84,327.00 108.51,302.60 136.18,281.30 163.85,270.60 191.52,264.80" fill="none" stroke="#111" stroke-width="2.2" stroke-linejoin="round" stroke-dasharray="4 1.4"/>
<polygon points="25.5,328.1 28.3,333.1 22.7,333.1" fill="#111"/>
<polygon points="53.17,328.1 55.97,333.1 50.370000000000005,333.1" fill="#111"/>
<polygon points="80.84,324.1 83.64,329.1 78.04,329.1" fill="#111"/>
<polygon points="108.51,299.70000000000005 111.31,304.70000000000005 105.71000000000001,304.70000000000005" fill="#111"/>
<polygon points="136.18,278.40000000000003 138.98000000000002,283.40000000000003 133.38,283.40000000000003" fill="#111"/>
<polygon points="163.85000000000002,267.70000000000005 166.65000000000003,272.70000000000005 161.05,272.70000000000005" fill="#111"/>
<polygon points="191.52,261.90000000000003 194.32000000000002,266.90000000000003 188.72,266.90000000000003" fill="#111"/>
<line x1="80.84" y1="325.0" x2="80.84" y2="331.0" stroke="#222" stroke-width="1.1"/>
<line x1="78.84" y1="325.0" x2="82.84" y2="325.0" stroke="#222" stroke-width="1.2"/>
<line x1="78.84" y1="331.0" x2="82.84" y2="331.0" stroke="#222" stroke-width="1.2"/>
<line x1="108.51" y1="304.5" x2="108.51" y2="322.5" stroke="#222" stroke-width="1.1"/>
<line x1="106.51" y1="304.5" x2="110.51" y2="304.5" stroke="#222" stroke-width="1.2"/>
<line x1="106.51" y1="322.5" x2="110.51" y2="322.5" stroke="#222" stroke-width="1.2"/>
<line x1="136.18" y1="298.4" x2="136.18" y2="308.4" stroke="#222" stroke-width="1.1"/>
<line x1="134.18" y1="298.4" x2="138.18" y2="298.4" stroke="#222" stroke-width="1.2"/>
<line x1="134.18" y1="308.4" x2="138.18" y2="308.4" stroke="#222" stroke-width="1.2"/>
<line x1="163.85000000000002" y1="279.7" x2="163.85000000000002" y2="293.7" stroke="#222" stroke-width="1.1"/>
<line x1="161.85000000000002" y1="279.7" x2="165.85000000000002" y2="279.7" stroke="#222" stroke-width="1.2"/>
<line x1="161.85000000000002" y1="293.7" x2="165.85000000000002" y2="293.7" stroke="#222" stroke-width="1.2"/>
<line x1="191.52" y1="276.0" x2="191.52" y2="286.0" stroke="#222" stroke-width="1.1"/>
<line x1="189.52" y1="276.0" x2="193.52" y2="276.0" stroke="#222" stroke-width="1.2"/>
<line x1="189.52" y1="286.0" x2="193.52" y2="286.0" stroke="#222" stroke-width="1.2"/>
<polyline points="25.50,331.00 53.17,331.00 80.84,328.00 108.51,313.50 136.18,303.40 163.85,286.70 191.52,281.00" fill="none" stroke="#111" stroke-width="2.2" stroke-linejoin="round" stroke-dasharray="4.2 1.4"/>
<polygon points="25.5,334.5 29.3,328.2 21.7,328.2" fill="#111"/>
<polygon points="53.17,334.5 56.97,328.2 49.370000000000005,328.2" fill="#111"/>
<polygon points="80.84,331.5 84.64,325.2 77.04,325.2" fill="#111"/>
<polygon points="108.51,317.0 112.31,310.7 104.71000000000001,310.7" fill="#111"/>
<polygon points="136.18,306.9 139.98000000000002,300.59999999999997 132.38,300.59999999999997" fill="#111"/>
<polygon points="163.85000000000002,290.2 167.65000000000003,283.9 160.05,283.9" fill="#111"/>
<polygon points="191.52,284.5 195.32000000000002,278.2 187.72,278.2" fill="#111"/>
<line x1="136.18" y1="308.0" x2="136.18" y2="320.0" stroke="#222" stroke-width="1.1"/>
<line x1="134.18" y1="308.0" x2="138.18" y2="308.0" stroke="#222" stroke-width="1.2"/>
<line x1="134.18" y1="320.0" x2="138.18" y2="320.0" stroke="#222" stroke-width="1.2"/>
<line x1="163.85000000000002" y1="296.4" x2="163.85000000000002" y2="310.4" stroke="#222" stroke-width="1.1"/>
<line x1="161.85000000000002" y1="296.4" x2="165.85000000000002" y2="296.4" stroke="#222" stroke-width="1.2"/>
<line x1="161.85000000000002" y1="310.4" x2="165.85000000000002" y2="310.4" stroke="#222" stroke-width="1.2"/>
<line x1="191.52" y1="295.3" x2="191.52" y2="310.7" stroke="#222" stroke-width="1.1"/>
<line x1="189.52" y1="295.3" x2="193.52" y2="295.3" stroke="#222" stroke-width="1.2"/>
<line x1="189.52" y1="310.7" x2="193.52" y2="310.7" stroke="#222" stroke-width="1.2"/>
<polyline points="25.50,331.00 53.17,331.00 80.84,331.00 108.51,330.80 136.18,314.00 163.85,303.40 191.52,303.00" fill="none" stroke="#111" stroke-width="2.2" stroke-linejoin="round" stroke-dasharray="4.2 1.4"/>
<polygon points="25.5,327.0 29.5,331 25.5,335.0 21.5,331" fill="#111"/>
<polygon points="53.17,327.0 57.17,331 53.17,335.0 49.17,331" fill="#111"/>
<polygon points="80.84,327.0 84.84,331.0 80.84,335.0 76.84,331.0" fill="#111"/>
<polygon points="108.51,326.8 112.51,330.8 108.51,334.8 104.51,330.8" fill="#111"/>
<polygon points="136.18,310.0 140.18,314.0 136.18,318.0 132.18,314.0" fill="#111"/>
<polygon points="163.85000000000002,299.4 167.85000000000002,303.4 163.85000000000002,307.4 159.85000000000002,303.4" fill="#111"/>
<polygon points="191.52,299.0 195.52,303.0 191.52,307.0 187.52,303.0" fill="#111"/>
<circle cx="201.10" cy="251.6" r="1.3" fill="#111"/>
<circle cx="200.80" cy="264.5" r="1.3" fill="#111"/>
<circle cx="204.30" cy="264.5" r="1.3" fill="#111"/>
<circle cx="207.80" cy="264.5" r="1.3" fill="#111"/>
<circle cx="200.80" cy="279.6" r="1.3" fill="#111"/>
<circle cx="204.30" cy="279.6" r="1.3" fill="#111"/>
<circle cx="207.80" cy="279.6" r="1.3" fill="#111"/>
<circle cx="200.80" cy="302.7" r="1.3" fill="#111"/>
<circle cx="204.30" cy="302.7" r="1.3" fill="#111"/>
<circle cx="207.80" cy="302.7" r="1.3" fill="#111"/>
<line x1="221.1" y1="209.2" x2="231.3" y2="209.2" stroke="#111" stroke-width="2"/>
<circle cx="226.2" cy="209.2" r="2.2" fill="#111"/>
<text x="237.7" y="209.5" font-size="9.0" text-anchor="start" dominant-baseline="central" fill="#111" stroke="#111" stroke-width="0.4" >Vehicle</text>
<line x1="221.1" y1="221.1" x2="231.3" y2="221.1" stroke="#111" stroke-width="2"/>
<rect x="223.89999999999998" y="218.79999999999998" width="4.6" height="4.6" fill="#fff" stroke="#111" stroke-width="1.9"/>
<text x="237.7" y="221.4" font-size="9.0" text-anchor="start" dominant-baseline="central" fill="#111" stroke="#111" stroke-width="0.4" >0.3 mg/kg</text>
<line x1="221.1" y1="231.8" x2="223.7" y2="231.8" stroke="#111" stroke-width="2"/>
<line x1="228.70000000000002" y1="231.8" x2="231.3" y2="231.8" stroke="#111" stroke-width="2"/>
<line x1="224.7" y1="231.8" x2="227.70000000000002" y2="231.8" stroke="#111" stroke-width="1.6"/>
<polygon points="226.2,228.9 229.0,233.9 223.39999999999998,233.9" fill="#111"/>
<text x="237.7" y="232.10000000000002" font-size="9.0" text-anchor="start" dominant-baseline="central" fill="#111" stroke="#111" stroke-width="0.4" >1 mg/kg</text>
<line x1="221.1" y1="242.1" x2="231.3" y2="242.1" stroke="#111" stroke-width="2"/>
<polygon points="226.2,245.6 230.0,239.29999999999998 222.39999999999998,239.29999999999998" fill="#111"/>
<text x="237.7" y="242.4" font-size="9.0" text-anchor="start" dominant-baseline="central" fill="#111" stroke="#111" stroke-width="0.4" >3 mg/kg</text>
<line x1="221.1" y1="253.3" x2="231.3" y2="253.3" stroke="#111" stroke-width="2"/>
<polygon points="226.2,249.3 230.2,253.3 226.2,257.3 222.2,253.3" fill="#111"/>
<text x="237.7" y="253.60000000000002" font-size="9.0" text-anchor="start" dominant-baseline="central" fill="#111" stroke="#111" stroke-width="0.4" >10 mg/kg</text>
<line x1="33.3" y1="374.5" x2="33.3" y2="490.5" stroke="#111" stroke-width="2"/>
<line x1="32.3" y1="490" x2="198" y2="490" stroke="#111" stroke-width="2"/>
<line x1="30.299999999999997" y1="487.8" x2="33.3" y2="487.8" stroke="#111" stroke-width="1.5"/>
<text x="29.799999999999997" y="488.1" font-size="7.6" font-weight="bold" text-anchor="end" dominant-baseline="central" fill="#111" stroke="#111" stroke-width="0.2" >0.0</text>
<line x1="30.299999999999997" y1="473.7" x2="33.3" y2="473.7" stroke="#111" stroke-width="1.5"/>
<text x="29.799999999999997" y="474.0" font-size="7.6" font-weight="bold" text-anchor="end" dominant-baseline="central" fill="#111" stroke="#111" stroke-width="0.2" >0.5</text>
<line x1="30.299999999999997" y1="459.6" x2="33.3" y2="459.6" stroke="#111" stroke-width="1.5"/>
<text x="29.799999999999997" y="459.90000000000003" font-size="7.6" font-weight="bold" text-anchor="end" dominant-baseline="central" fill="#111" stroke="#111" stroke-width="0.2" >1.0</text>
<line x1="30.299999999999997" y1="445.5" x2="33.3" y2="445.5" stroke="#111" stroke-width="1.5"/>
<text x="29.799999999999997" y="445.8" font-size="7.6" font-weight="bold" text-anchor="end" dominant-baseline="central" fill="#111" stroke="#111" stroke-width="0.2" >1.5</text>
<line x1="30.299999999999997" y1="431.40000000000003" x2="33.3" y2="431.40000000000003" stroke="#111" stroke-width="1.5"/>
<text x="29.799999999999997" y="431.70000000000005" font-size="7.6" font-weight="bold" text-anchor="end" dominant-baseline="central" fill="#111" stroke="#111" stroke-width="0.2" >2.0</text>
<line x1="30.299999999999997" y1="417.3" x2="33.3" y2="417.3" stroke="#111" stroke-width="1.5"/>
<text x="29.799999999999997" y="417.6" font-size="7.6" font-weight="bold" text-anchor="end" dominant-baseline="central" fill="#111" stroke="#111" stroke-width="0.2" >2.5</text>
<line x1="30.299999999999997" y1="403.20000000000005" x2="33.3" y2="403.20000000000005" stroke="#111" stroke-width="1.5"/>
<text x="29.799999999999997" y="403.50000000000006" font-size="7.6" font-weight="bold" text-anchor="end" dominant-baseline="central" fill="#111" stroke="#111" stroke-width="0.2" >3.0</text>
<line x1="30.299999999999997" y1="389.1" x2="33.3" y2="389.1" stroke="#111" stroke-width="1.5"/>
<text x="29.799999999999997" y="389.40000000000003" font-size="7.6" font-weight="bold" text-anchor="end" dominant-baseline="central" fill="#111" stroke="#111" stroke-width="0.2" >3.5</text>
<line x1="30.299999999999997" y1="375.0" x2="33.3" y2="375.0" stroke="#111" stroke-width="1.5"/>
<text x="29.799999999999997" y="375.3" font-size="7.6" font-weight="bold" text-anchor="end" dominant-baseline="central" fill="#111" stroke="#111" stroke-width="0.2" >4.0</text>
<line x1="33.0" y1="490" x2="33.0" y2="493" stroke="#111" stroke-width="1.5"/>
<text x="33.0" y="497.0" font-size="7.6" font-weight="bold" text-anchor="middle" dominant-baseline="central" fill="#111" stroke="#111" stroke-width="0.2" >0</text>
<line x1="60.5" y1="490" x2="60.5" y2="493" stroke="#111" stroke-width="1.5"/>
<text x="60.5" y="497.0" font-size="7.6" font-weight="bold" text-anchor="middle" dominant-baseline="central" fill="#111" stroke="#111" stroke-width="0.2" >1</text>
<line x1="88.0" y1="490" x2="88.0" y2="493" stroke="#111" stroke-width="1.5"/>
<text x="88.0" y="497.0" font-size="7.6" font-weight="bold" text-anchor="middle" dominant-baseline="central" fill="#111" stroke="#111" stroke-width="0.2" >2</text>
<line x1="115.5" y1="490" x2="115.5" y2="493" stroke="#111" stroke-width="1.5"/>
<text x="115.5" y="497.0" font-size="7.6" font-weight="bold" text-anchor="middle" dominant-baseline="central" fill="#111" stroke="#111" stroke-width="0.2" >3</text>
<line x1="143.0" y1="490" x2="143.0" y2="493" stroke="#111" stroke-width="1.5"/>
<text x="143.0" y="497.0" font-size="7.6" font-weight="bold" text-anchor="middle" dominant-baseline="central" fill="#111" stroke="#111" stroke-width="0.2" >4</text>
<line x1="170.5" y1="490" x2="170.5" y2="493" stroke="#111" stroke-width="1.5"/>
<text x="170.5" y="497.0" font-size="7.6" font-weight="bold" text-anchor="middle" dominant-baseline="central" fill="#111" stroke="#111" stroke-width="0.2" >5</text>
<line x1="198.0" y1="490" x2="198.0" y2="493" stroke="#111" stroke-width="1.5"/>
<text x="198.0" y="497.0" font-size="7.6" font-weight="bold" text-anchor="middle" dominant-baseline="central" fill="#111" stroke="#111" stroke-width="0.2" >6</text>
<text x="115.2" y="506.3" font-size="9" font-weight="bold" text-anchor="middle" dominant-baseline="central" transform="translate(115.2 506.3) scale(1.1 1) translate(-115.2 -506.3)" fill="#111" stroke="#111" stroke-width="0.2" >Days</text>
<text x="0" y="0" font-size="8.4" text-anchor="middle" dominant-baseline="central" transform="translate(4.0 432.6) scale(1.17 1) rotate(-90)" fill="#111" stroke="#111" stroke-width="0.4" >Erythema score</text>
<text x="9.7" y="363.1" font-size="15" text-anchor="start" fill="#111" stroke="#111" stroke-width="0.4" >C</text>
<line x1="60.5" y1="475.2" x2="60.5" y2="483.2" stroke="#222" stroke-width="1.1"/>
<line x1="58.5" y1="475.2" x2="62.5" y2="475.2" stroke="#222" stroke-width="1.2"/>
<line x1="58.5" y1="483.2" x2="62.5" y2="483.2" stroke="#222" stroke-width="1.2"/>
<line x1="88.0" y1="451.6" x2="88.0" y2="459.6" stroke="#222" stroke-width="1.1"/>
<line x1="86.0" y1="451.6" x2="90.0" y2="451.6" stroke="#222" stroke-width="1.2"/>
<line x1="86.0" y1="459.6" x2="90.0" y2="459.6" stroke="#222" stroke-width="1.2"/>
<line x1="115.5" y1="432.5" x2="115.5" y2="440.5" stroke="#222" stroke-width="1.1"/>
<line x1="113.5" y1="432.5" x2="117.5" y2="432.5" stroke="#222" stroke-width="1.2"/>
<line x1="113.5" y1="440.5" x2="117.5" y2="440.5" stroke="#222" stroke-width="1.2"/>
<line x1="143.0" y1="412.1" x2="143.0" y2="422.1" stroke="#222" stroke-width="1.1"/>
<line x1="141.0" y1="412.1" x2="145.0" y2="412.1" stroke="#222" stroke-width="1.2"/>
<line x1="141.0" y1="422.1" x2="145.0" y2="422.1" stroke="#222" stroke-width="1.2"/>
<line x1="170.5" y1="400.5" x2="170.5" y2="406.5" stroke="#222" stroke-width="1.1"/>
<line x1="168.5" y1="400.5" x2="172.5" y2="400.5" stroke="#222" stroke-width="1.2"/>
<line x1="168.5" y1="406.5" x2="172.5" y2="406.5" stroke="#222" stroke-width="1.2"/>
<line x1="198.0" y1="391.0" x2="198.0" y2="401.0" stroke="#222" stroke-width="1.1"/>
<line x1="196.0" y1="391.0" x2="200.0" y2="391.0" stroke="#222" stroke-width="1.2"/>
<line x1="196.0" y1="401.0" x2="200.0" y2="401.0" stroke="#222" stroke-width="1.2"/>
<polyline points="33.00,487.80 60.50,479.20 88.00,455.60 115.50,436.50 143.00,417.10 170.50,403.50 198.00,396.00" fill="none" stroke="#111" stroke-width="2.2" stroke-linejoin="round"/>
<circle cx="33.0" cy="487.8" r="2.2" fill="#111"/>
<circle cx="60.5" cy="479.2" r="2.2" fill="#111"/>
<circle cx="88.0" cy="455.6" r="2.2" fill="#111"/>
<circle cx="115.5" cy="436.5" r="2.2" fill="#111"/>
<circle cx="143.0" cy="417.1" r="2.2" fill="#111"/>
<circle cx="170.5" cy="403.5" r="2.2" fill="#111"/>
<circle cx="198.0" cy="396.0" r="2.2" fill="#111"/>
<line x1="198.0" y1="403.0" x2="198.0" y2="411.0" stroke="#222" stroke-width="1.1"/>
<line x1="196.0" y1="403.0" x2="200.0" y2="403.0" stroke="#222" stroke-width="1.2"/>
<line x1="196.0" y1="411.0" x2="200.0" y2="411.0" stroke="#222" stroke-width="1.2"/>
<polyline points="33.00,487.80 60.50,481.40 88.00,458.40 115.50,441.50 143.00,428.10 170.50,410.50 198.00,407.00" fill="none" stroke="#111" stroke-width="2.2" stroke-linejoin="round" stroke-dasharray="4.2 1.4"/>
<rect x="30.7" y="485.5" width="4.6" height="4.6" fill="#fff" stroke="#111" stroke-width="1.9"/>
<rect x="58.2" y="479.09999999999997" width="4.6" height="4.6" fill="#fff" stroke="#111" stroke-width="1.9"/>
<rect x="85.7" y="456.09999999999997" width="4.6" height="4.6" fill="#fff" stroke="#111" stroke-width="1.9"/>
<rect x="113.2" y="439.2" width="4.6" height="4.6" fill="#fff" stroke="#111" stroke-width="1.9"/>
<rect x="140.7" y="425.8" width="4.6" height="4.6" fill="#fff" stroke="#111" stroke-width="1.9"/>
<rect x="168.2" y="408.2" width="4.6" height="4.6" fill="#fff" stroke="#111" stroke-width="1.9"/>
<rect x="195.7" y="404.7" width="4.6" height="4.6" fill="#fff" stroke="#111" stroke-width="1.9"/>
<line x1="60.5" y1="478.4" x2="60.5" y2="484.4" stroke="#222" stroke-width="1.1"/>
<line x1="58.5" y1="478.4" x2="62.5" y2="478.4" stroke="#222" stroke-width="1.2"/>
<line x1="58.5" y1="484.4" x2="62.5" y2="484.4" stroke="#222" stroke-width="1.2"/>
<line x1="88.0" y1="454.4" x2="88.0" y2="462.4" stroke="#222" stroke-width="1.1"/>
<line x1="86.0" y1="454.4" x2="90.0" y2="454.4" stroke="#222" stroke-width="1.2"/>
<line x1="86.0" y1="462.4" x2="90.0" y2="462.4" stroke="#222" stroke-width="1.2"/>
<line x1="115.5" y1="437.5" x2="115.5" y2="445.5" stroke="#222" stroke-width="1.1"/>
<line x1="113.5" y1="437.5" x2="117.5" y2="437.5" stroke="#222" stroke-width="1.2"/>
<line x1="113.5" y1="445.5" x2="117.5" y2="445.5" stroke="#222" stroke-width="1.2"/>
<line x1="143.0" y1="424.1" x2="143.0" y2="432.1" stroke="#222" stroke-width="1.1"/>
<line x1="141.0" y1="424.1" x2="145.0" y2="424.1" stroke="#222" stroke-width="1.2"/>
<line x1="141.0" y1="432.1" x2="145.0" y2="432.1" stroke="#222" stroke-width="1.2"/>
<line x1="170.5" y1="406.5" x2="170.5" y2="414.5" stroke="#222" stroke-width="1.1"/>
<line x1="168.5" y1="406.5" x2="172.5" y2="406.5" stroke="#222" stroke-width="1.2"/>
<line x1="168.5" y1="414.5" x2="172.5" y2="414.5" stroke="#222" stroke-width="1.2"/>
<line x1="60.5" y1="482.6" x2="60.5" y2="486.6" stroke="#222" stroke-width="1.1"/>
<line x1="58.5" y1="482.6" x2="62.5" y2="482.6" stroke="#222" stroke-width="1.2"/>
<line x1="58.5" y1="486.6" x2="62.5" y2="486.6" stroke="#222" stroke-width="1.2"/>
<line x1="88.0" y1="457.0" x2="88.0" y2="465.0" stroke="#222" stroke-width="1.1"/>
<line x1="86.0" y1="457.0" x2="90.0" y2="457.0" stroke="#222" stroke-width="1.2"/>
<line x1="86.0" y1="465.0" x2="90.0" y2="465.0" stroke="#222" stroke-width="1.2"/>
<line x1="115.5" y1="443.0" x2="115.5" y2="451.0" stroke="#222" stroke-width="1.1"/>
<line x1="113.5" y1="443.0" x2="117.5" y2="443.0" stroke="#222" stroke-width="1.2"/>
<line x1="113.5" y1="451.0" x2="117.5" y2="451.0" stroke="#222" stroke-width="1.2"/>
<line x1="143.0" y1="425.5" x2="143.0" y2="435.5" stroke="#222" stroke-width="1.1"/>
<line x1="141.0" y1="425.5" x2="145.0" y2="425.5" stroke="#222" stroke-width="1.2"/>
<line x1="141.0" y1="435.5" x2="145.0" y2="435.5" stroke="#222" stroke-width="1.2"/>
<line x1="170.5" y1="417.0" x2="170.5" y2="425.0" stroke="#222" stroke-width="1.1"/>
<line x1="168.5" y1="417.0" x2="172.5" y2="417.0" stroke="#222" stroke-width="1.2"/>
<line x1="168.5" y1="425.0" x2="172.5" y2="425.0" stroke="#222" stroke-width="1.2"/>
<line x1="198.0" y1="412.7" x2="198.0" y2="422.7" stroke="#222" stroke-width="1.1"/>
<line x1="196.0" y1="412.7" x2="200.0" y2="412.7" stroke="#222" stroke-width="1.2"/>
<line x1="196.0" y1="422.7" x2="200.0" y2="422.7" stroke="#222" stroke-width="1.2"/>
<polyline points="33.00,487.80 60.50,484.60 88.00,461.00 115.50,447.00 143.00,430.50 170.50,421.00 198.00,417.70" fill="none" stroke="#111" stroke-width="2.2" stroke-linejoin="round" stroke-dasharray="4 1.4"/>
<polygon points="33.0,484.90000000000003 35.8,489.90000000000003 30.2,489.90000000000003" fill="#111"/>
<polygon points="60.5,481.70000000000005 63.3,486.70000000000005 57.7,486.70000000000005" fill="#111"/>
<polygon points="88.0,458.1 90.8,463.1 85.2,463.1" fill="#111"/>
<polygon points="115.5,444.1 118.3,449.1 112.7,449.1" fill="#111"/>
<polygon points="143.0,427.6 145.8,432.6 140.2,432.6" fill="#111"/>
<polygon points="170.5,418.1 173.3,423.1 167.7,423.1" fill="#111"/>
<polygon points="198.0,414.8 200.8,419.8 195.2,419.8" fill="#111"/>
<line x1="60.5" y1="484.0" x2="60.5" y2="488.0" stroke="#222" stroke-width="1.1"/>
<line x1="58.5" y1="484.0" x2="62.5" y2="484.0" stroke="#222" stroke-width="1.2"/>
<line x1="58.5" y1="488.0" x2="62.5" y2="488.0" stroke="#222" stroke-width="1.2"/>
<line x1="88.0" y1="464.5" x2="88.0" y2="472.5" stroke="#222" stroke-width="1.1"/>
<line x1="86.0" y1="464.5" x2="90.0" y2="464.5" stroke="#222" stroke-width="1.2"/>
<line x1="86.0" y1="472.5" x2="90.0" y2="472.5" stroke="#222" stroke-width="1.2"/>
<line x1="115.5" y1="443.5" x2="115.5" y2="453.5" stroke="#222" stroke-width="1.1"/>
<line x1="113.5" y1="443.5" x2="117.5" y2="443.5" stroke="#222" stroke-width="1.2"/>
<line x1="113.5" y1="453.5" x2="117.5" y2="453.5" stroke="#222" stroke-width="1.2"/>
<line x1="143.0" y1="441.6" x2="143.0" y2="447.6" stroke="#222" stroke-width="1.1"/>
<line x1="141.0" y1="441.6" x2="145.0" y2="441.6" stroke="#222" stroke-width="1.2"/>
<line x1="141.0" y1="447.6" x2="145.0" y2="447.6" stroke="#222" stroke-width="1.2"/>
<line x1="170.5" y1="432.5" x2="170.5" y2="442.5" stroke="#222" stroke-width="1.1"/>
<line x1="168.5" y1="432.5" x2="172.5" y2="432.5" stroke="#222" stroke-width="1.2"/>
<line x1="168.5" y1="442.5" x2="172.5" y2="442.5" stroke="#222" stroke-width="1.2"/>
<line x1="198.0" y1="432.6" x2="198.0" y2="438.6" stroke="#222" stroke-width="1.1"/>
<line x1="196.0" y1="432.6" x2="200.0" y2="432.6" stroke="#222" stroke-width="1.2"/>
<line x1="196.0" y1="438.6" x2="200.0" y2="438.6" stroke="#222" stroke-width="1.2"/>
<polyline points="33.00,487.80 60.50,486.00 88.00,468.50 115.50,448.50 143.00,444.60 170.50,437.50 198.00,435.60" fill="none" stroke="#111" stroke-width="2.2" stroke-linejoin="round" stroke-dasharray="4.2 1.4"/>
<polygon points="33.0,491.3 36.8,485.0 29.2,485.0" fill="#111"/>
<polygon points="60.5,489.5 64.3,483.2 56.7,483.2" fill="#111"/>
<polygon points="88.0,472.0 91.8,465.7 84.2,465.7" fill="#111"/>
<polygon points="115.5,452.0 119.3,445.7 111.7,445.7" fill="#111"/>
<polygon points="143.0,448.1 146.8,441.8 139.2,441.8" fill="#111"/>
<polygon points="170.5,441.0 174.3,434.7 166.7,434.7" fill="#111"/>
<polygon points="198.0,439.1 201.8,432.8 194.2,432.8" fill="#111"/>
<line x1="60.5" y1="486.8" x2="60.5" y2="488.8" stroke="#222" stroke-width="1.1"/>
<line x1="58.5" y1="486.8" x2="62.5" y2="486.8" stroke="#222" stroke-width="1.2"/>
<line x1="58.5" y1="488.8" x2="62.5" y2="488.8" stroke="#222" stroke-width="1.2"/>
<line x1="88.0" y1="466.0" x2="88.0" y2="474.0" stroke="#222" stroke-width="1.1"/>
<line x1="86.0" y1="466.0" x2="90.0" y2="466.0" stroke="#222" stroke-width="1.2"/>
<line x1="86.0" y1="474.0" x2="90.0" y2="474.0" stroke="#222" stroke-width="1.2"/>
<line x1="115.5" y1="463.0" x2="115.5" y2="471.0" stroke="#222" stroke-width="1.1"/>
<line x1="113.5" y1="463.0" x2="117.5" y2="463.0" stroke="#222" stroke-width="1.2"/>
<line x1="113.5" y1="471.0" x2="117.5" y2="471.0" stroke="#222" stroke-width="1.2"/>
<line x1="143.0" y1="448.8" x2="143.0" y2="456.8" stroke="#222" stroke-width="1.1"/>
<line x1="141.0" y1="448.8" x2="145.0" y2="448.8" stroke="#222" stroke-width="1.2"/>
<line x1="141.0" y1="456.8" x2="145.0" y2="456.8" stroke="#222" stroke-width="1.2"/>
<line x1="170.5" y1="441.7" x2="170.5" y2="449.7" stroke="#222" stroke-width="1.1"/>
<line x1="168.5" y1="441.7" x2="172.5" y2="441.7" stroke="#222" stroke-width="1.2"/>
<line x1="168.5" y1="449.7" x2="172.5" y2="449.7" stroke="#222" stroke-width="1.2"/>
<line x1="198.0" y1="448.6" x2="198.0" y2="456.6" stroke="#222" stroke-width="1.1"/>
<line x1="196.0" y1="448.6" x2="200.0" y2="448.6" stroke="#222" stroke-width="1.2"/>
<line x1="196.0" y1="456.6" x2="200.0" y2="456.6" stroke="#222" stroke-width="1.2"/>
<polyline points="33.00,487.80 60.50,487.80 88.00,470.00 115.50,467.00 143.00,452.80 170.50,445.70 198.00,452.60" fill="none" stroke="#111" stroke-width="2.2" stroke-linejoin="round" stroke-dasharray="4.2 1.4"/>
<polygon points="33.0,483.8 37.0,487.8 33.0,491.8 29.0,487.8" fill="#111"/>
<polygon points="60.5,483.8 64.5,487.8 60.5,491.8 56.5,487.8" fill="#111"/>
<polygon points="88.0,466.0 92.0,470.0 88.0,474.0 84.0,470.0" fill="#111"/>
<polygon points="115.5,463.0 119.5,467.0 115.5,471.0 111.5,467.0" fill="#111"/>
<polygon points="143.0,448.8 147.0,452.8 143.0,456.8 139.0,452.8" fill="#111"/>
<polygon points="170.5,441.7 174.5,445.7 170.5,449.7 166.5,445.7" fill="#111"/>
<polygon points="198.0,448.6 202.0,452.6 198.0,456.6 194.0,452.6" fill="#111"/>
<circle cx="207.05" cy="417.2" r="1.3" fill="#111"/>
<circle cx="210.55" cy="417.2" r="1.3" fill="#111"/>
<circle cx="206.50" cy="433.2" r="1.3" fill="#111"/>
<circle cx="210.00" cy="433.2" r="1.3" fill="#111"/>
<circle cx="213.50" cy="433.2" r="1.3" fill="#111"/>
<circle cx="206.50" cy="452.4" r="1.3" fill="#111"/>
<circle cx="210.00" cy="452.4" r="1.3" fill="#111"/>
<circle cx="213.50" cy="452.4" r="1.3" fill="#111"/>
<line x1="228.9" y1="392.3" x2="238.7" y2="392.3" stroke="#111" stroke-width="2"/>
<circle cx="233.8" cy="392.3" r="2.2" fill="#111"/>
<text x="245.2" y="392.6" font-size="8.7" text-anchor="start" dominant-baseline="central" fill="#111" stroke="#111" stroke-width="0.4" >Vehicle</text>
<line x1="228.9" y1="403.5" x2="238.7" y2="403.5" stroke="#111" stroke-width="2"/>
<rect x="231.5" y="401.2" width="4.6" height="4.6" fill="#fff" stroke="#111" stroke-width="1.9"/>
<text x="245.2" y="403.8" font-size="8.7" text-anchor="start" dominant-baseline="central" fill="#111" stroke="#111" stroke-width="0.4" >0.3 mg/kg</text>
<line x1="228.9" y1="414.6" x2="231.5" y2="414.6" stroke="#111" stroke-width="2"/>
<line x1="236.1" y1="414.6" x2="238.7" y2="414.6" stroke="#111" stroke-width="2"/>
<line x1="232.5" y1="414.6" x2="235.1" y2="414.6" stroke="#111" stroke-width="1.6"/>
<polygon points="233.8,411.70000000000005 236.60000000000002,416.70000000000005 231.0,416.70000000000005" fill="#111"/>
<text x="245.2" y="414.90000000000003" font-size="8.7" text-anchor="start" dominant-baseline="central" fill="#111" stroke="#111" stroke-width="0.4" >1 mg/kg</text>
<line x1="228.9" y1="425.6" x2="238.7" y2="425.6" stroke="#111" stroke-width="2"/>
<polygon points="233.8,429.1 237.60000000000002,422.8 230.0,422.8" fill="#111"/>
<text x="245.2" y="425.90000000000003" font-size="8.7" text-anchor="start" dominant-baseline="central" fill="#111" stroke="#111" stroke-width="0.4" >3 mg/kg</text>
<line x1="228.9" y1="437.3" x2="238.7" y2="437.3" stroke="#111" stroke-width="2"/>
<polygon points="233.8,433.3 237.8,437.3 233.8,441.3 229.8,437.3" fill="#111"/>
<text x="245.2" y="437.6" font-size="8.7" text-anchor="start" dominant-baseline="central" fill="#111" stroke="#111" stroke-width="0.4" >10 mg/kg</text>
<line x1="360.20000000000005" y1="39.7" x2="360.20000000000005" y2="48.9" stroke="#111" stroke-width="1.9"/>
<line x1="353.90000000000003" y1="39.7" x2="366.50000000000006" y2="39.7" stroke="#111" stroke-width="2.0"/>
<rect x="348.6" y="49.699999999999996" width="23.20000000000001" height="71.00000000000001" fill="#151515" stroke="#111" stroke-width="1.6"/>
<line x1="360.20000000000005" y1="120.7" x2="360.20000000000005" y2="123.7" stroke="#111" stroke-width="1.2"/>
<text x="360.20000000000005" y="129.1" font-size="8.6" font-weight="bold" text-anchor="middle" dominant-baseline="central" fill="#111" stroke="#111" stroke-width="0.2" >Vehicle</text>
<line x1="395.45000000000005" y1="65.6" x2="395.45000000000005" y2="72.8" stroke="#111" stroke-width="1.9"/>
<line x1="389.15000000000003" y1="65.6" x2="401.75000000000006" y2="65.6" stroke="#111" stroke-width="2.0"/>
<rect x="383.90000000000003" y="73.6" width="23.099999999999987" height="47.10000000000001" fill="#d9d9d9" stroke="#111" stroke-width="1.6"/>
<circle cx="393.30" cy="54.4" r="1.5" fill="#111"/>
<circle cx="397.60" cy="54.4" r="1.5" fill="#111"/>
<line x1="395.45000000000005" y1="120.7" x2="395.45000000000005" y2="123.7" stroke="#111" stroke-width="1.2"/>
<text x="395.45000000000005" y="129.1" font-size="8.6" font-weight="bold" text-anchor="middle" dominant-baseline="central" fill="#111" stroke="#111" stroke-width="0.2" >0.3</text>
<line x1="431.15" y1="75.7" x2="431.15" y2="80.8" stroke="#111" stroke-width="1.9"/>
<line x1="424.84999999999997" y1="75.7" x2="437.45" y2="75.7" stroke="#111" stroke-width="2.0"/>
<rect x="419.7" y="81.6" width="22.9" height="39.10000000000001" fill="#666666" stroke="#111" stroke-width="1.6"/>
<circle cx="426.85" cy="65.4" r="1.5" fill="#111"/>
<circle cx="431.15" cy="65.4" r="1.5" fill="#111"/>
<circle cx="435.45" cy="65.4" r="1.5" fill="#111"/>
<line x1="431.15" y1="120.7" x2="431.15" y2="123.7" stroke="#111" stroke-width="1.2"/>
<text x="431.15" y="129.1" font-size="8.6" font-weight="bold" text-anchor="middle" dominant-baseline="central" fill="#111" stroke="#111" stroke-width="0.2" >1</text>
<line x1="466.5" y1="87.2" x2="466.5" y2="93.5" stroke="#111" stroke-width="1.9"/>
<line x1="460.2" y1="87.2" x2="472.8" y2="87.2" stroke="#111" stroke-width="2.0"/>
<rect x="454.90000000000003" y="94.3" width="23.199999999999953" height="26.400000000000002" fill="url(#dotsD)" stroke="#111" stroke-width="1.6"/>
<circle cx="462.20" cy="76.0" r="1.5" fill="#111"/>
<circle cx="466.50" cy="76.0" r="1.5" fill="#111"/>
<circle cx="470.80" cy="76.0" r="1.5" fill="#111"/>
<line x1="466.5" y1="120.7" x2="466.5" y2="123.7" stroke="#111" stroke-width="1.2"/>
<text x="466.5" y="129.1" font-size="8.6" font-weight="bold" text-anchor="middle" dominant-baseline="central" fill="#111" stroke="#111" stroke-width="0.2" >3</text>
<line x1="501.85" y1="104.7" x2="501.85" y2="107.0" stroke="#111" stroke-width="1.9"/>
<line x1="495.55" y1="104.7" x2="508.15000000000003" y2="104.7" stroke="#111" stroke-width="2.0"/>
<rect x="490.1" y="107.8" width="23.499999999999964" height="12.900000000000002" fill="url(#fine)" stroke="#111" stroke-width="1.6"/>
<circle cx="497.55" cy="94.9" r="1.5" fill="#111"/>
<circle cx="501.85" cy="94.9" r="1.5" fill="#111"/>
<circle cx="506.15" cy="94.9" r="1.5" fill="#111"/>
<line x1="501.85" y1="120.7" x2="501.85" y2="123.7" stroke="#111" stroke-width="1.2"/>
<text x="501.85" y="129.1" font-size="8.6" font-weight="bold" text-anchor="middle" dominant-baseline="central" fill="#111" stroke="#111" stroke-width="0.2" >10</text>
<line x1="342.6" y1="20.8" x2="342.6" y2="121.7" stroke="#111" stroke-width="1.8"/>
<line x1="342.6" y1="120.7" x2="520" y2="120.7" stroke="#111" stroke-width="1.8"/>
<line x1="338.1" y1="20.9" x2="342.6" y2="20.9" stroke="#111" stroke-width="1.5"/>
<text x="337.6" y="21.2" font-size="8.6" font-weight="bold" text-anchor="end" dominant-baseline="central" transform="translate(337.6 21.2) scale(1.08 1) translate(-337.6 -21.2)" fill="#111" stroke="#111" stroke-width="0.2" >0.0090</text>
<line x1="338.1" y1="50.93299999999999" x2="342.6" y2="50.93299999999999" stroke="#111" stroke-width="1.5"/>
<text x="337.6" y="51.23299999999999" font-size="8.6" font-weight="bold" text-anchor="end" dominant-baseline="central" transform="translate(337.6 51.23299999999999) scale(1.08 1) translate(-337.6 -51.23299999999999)" fill="#111" stroke="#111" stroke-width="0.2" >0.0075</text>
<line x1="338.1" y1="80.96599999999998" x2="342.6" y2="80.96599999999998" stroke="#111" stroke-width="1.5"/>
<text x="337.6" y="81.26599999999998" font-size="8.6" font-weight="bold" text-anchor="end" dominant-baseline="central" transform="translate(337.6 81.26599999999998) scale(1.08 1) translate(-337.6 -81.26599999999998)" fill="#111" stroke="#111" stroke-width="0.2" >0.0060</text>
<line x1="338.1" y1="110.999" x2="342.6" y2="110.999" stroke="#111" stroke-width="1.5"/>
<text x="337.6" y="111.29899999999999" font-size="8.6" font-weight="bold" text-anchor="end" dominant-baseline="central" transform="translate(337.6 111.29899999999999) scale(1.08 1) translate(-337.6 -111.29899999999999)" fill="#111" stroke="#111" stroke-width="0.2" >0.0045</text>
<line x1="391.2" y1="139.8" x2="507.1" y2="139.8" stroke="#111" stroke-width="1.3"/>
<line x1="391.2" y1="137.4" x2="391.2" y2="142.20000000000002" stroke="#111" stroke-width="1.3"/>
<line x1="507.1" y1="137.4" x2="507.1" y2="142.20000000000002" stroke="#111" stroke-width="1.3"/>
<text x="452" y="153.6" font-size="12.2" text-anchor="middle" dominant-baseline="central" fill="#111" stroke="#111" stroke-width="0.4" >BMS-986126 (mg/kg)</text>
<text x="0" y="0" font-size="9.1" text-anchor="middle" dominant-baseline="central" transform="translate(300.6 72.2) scale(1.2 1) rotate(-90)" fill="#111" stroke="#111" stroke-width="0.4" >Relative Spleen Weight</text>
<text x="297.9" y="11.0" font-size="15" text-anchor="start" fill="#111" stroke="#111" stroke-width="0.4" >D</text>
<line x1="354.65" y1="215.0" x2="354.65" y2="218.0" stroke="#111" stroke-width="1.9"/>
<line x1="348.45" y1="215.0" x2="360.84999999999997" y2="215.0" stroke="#111" stroke-width="2.0"/>
<rect x="343.2" y="218.8" width="22.9" height="82.09999999999998" fill="#151515" stroke="#111" stroke-width="1.6"/>
<line x1="354.65" y1="300.9" x2="354.65" y2="303.9" stroke="#111" stroke-width="1.2"/>
<text x="354.65" y="309.6" font-size="8.4" font-weight="bold" text-anchor="middle" dominant-baseline="central" fill="#111" stroke="#111" stroke-width="0.2" >Vehicle</text>
<line x1="387.6" y1="230.7" x2="387.6" y2="236.0" stroke="#111" stroke-width="1.9"/>
<line x1="381.40000000000003" y1="230.7" x2="393.8" y2="230.7" stroke="#111" stroke-width="2.0"/>
<rect x="375.7" y="236.8" width="23.800000000000033" height="64.09999999999998" fill="#d9d9d9" stroke="#111" stroke-width="1.6"/>
<line x1="387.6" y1="300.9" x2="387.6" y2="303.9" stroke="#111" stroke-width="1.2"/>
<text x="387.6" y="309.6" font-size="8.4" font-weight="bold" text-anchor="middle" dominant-baseline="central" fill="#111" stroke="#111" stroke-width="0.2" >0.3</text>
<line x1="420.6" y1="226.8" x2="420.6" y2="234.8" stroke="#111" stroke-width="1.9"/>
<line x1="414.40000000000003" y1="226.8" x2="426.8" y2="226.8" stroke="#111" stroke-width="2.0"/>
<rect x="409.0" y="235.60000000000002" width="23.20000000000001" height="65.29999999999997" fill="#666666" stroke="#111" stroke-width="1.6"/>
<line x1="420.6" y1="300.9" x2="420.6" y2="303.9" stroke="#111" stroke-width="1.2"/>
<text x="420.6" y="309.6" font-size="8.4" font-weight="bold" text-anchor="middle" dominant-baseline="central" fill="#111" stroke="#111" stroke-width="0.2" >1</text>
<line x1="454.0" y1="235.8" x2="454.0" y2="239.1" stroke="#111" stroke-width="1.9"/>
<line x1="447.8" y1="235.8" x2="460.2" y2="235.8" stroke="#111" stroke-width="2.0"/>
<rect x="442.1" y="239.9" width="23.799999999999976" height="60.999999999999986" fill="url(#dotsE)" stroke="#111" stroke-width="1.6"/>
<circle cx="454.00" cy="225.0" r="1.5" fill="#111"/>
<line x1="454.0" y1="300.9" x2="454.0" y2="303.9" stroke="#111" stroke-width="1.2"/>
<text x="454.0" y="309.6" font-size="8.4" font-weight="bold" text-anchor="middle" dominant-baseline="central" fill="#111" stroke="#111" stroke-width="0.2" >3</text>
<line x1="487.0" y1="246.8" x2="487.0" y2="251.0" stroke="#111" stroke-width="1.9"/>
<line x1="480.8" y1="246.8" x2="493.2" y2="246.8" stroke="#111" stroke-width="2.0"/>
<rect x="475.1" y="251.8" width="23.799999999999976" height="49.09999999999998" fill="url(#fine)" stroke="#111" stroke-width="1.6"/>
<circle cx="484.85" cy="237.2" r="1.5" fill="#111"/>
<circle cx="489.15" cy="237.2" r="1.5" fill="#111"/>
<line x1="487.0" y1="300.9" x2="487.0" y2="303.9" stroke="#111" stroke-width="1.2"/>
<text x="487.0" y="309.6" font-size="8.4" font-weight="bold" text-anchor="middle" dominant-baseline="central" fill="#111" stroke="#111" stroke-width="0.2" >10</text>
<line x1="337.0" y1="187.5" x2="337.0" y2="301.9" stroke="#111" stroke-width="1.8"/>
<line x1="337.0" y1="300.9" x2="503.3" y2="300.9" stroke="#111" stroke-width="1.8"/>
<line x1="334.0" y1="300.9" x2="337.0" y2="300.9" stroke="#111" stroke-width="1.5"/>
<text x="333.5" y="301.2" font-size="8.4" font-weight="bold" text-anchor="end" dominant-baseline="central" fill="#111" stroke="#111" stroke-width="0.2" >0</text>
<line x1="334.0" y1="272.66999999999996" x2="337.0" y2="272.66999999999996" stroke="#111" stroke-width="1.5"/>
<text x="333.5" y="272.96999999999997" font-size="8.4" font-weight="bold" text-anchor="end" dominant-baseline="central" fill="#111" stroke="#111" stroke-width="0.2" >3</text>
<line x1="334.0" y1="244.43999999999997" x2="337.0" y2="244.43999999999997" stroke="#111" stroke-width="1.5"/>
<text x="333.5" y="244.73999999999998" font-size="8.4" font-weight="bold" text-anchor="end" dominant-baseline="central" fill="#111" stroke="#111" stroke-width="0.2" >6</text>
<line x1="334.0" y1="216.20999999999998" x2="337.0" y2="216.20999999999998" stroke="#111" stroke-width="1.5"/>
<text x="333.5" y="216.51" font-size="8.4" font-weight="bold" text-anchor="end" dominant-baseline="central" fill="#111" stroke="#111" stroke-width="0.2" >9</text>
<line x1="334.0" y1="187.97999999999996" x2="337.0" y2="187.97999999999996" stroke="#111" stroke-width="1.5"/>
<text x="333.5" y="188.27999999999997" font-size="8.4" font-weight="bold" text-anchor="end" dominant-baseline="central" fill="#111" stroke="#111" stroke-width="0.2" >12</text>
<line x1="375.3" y1="318.0" x2="467.5" y2="318.0" stroke="#111" stroke-width="1.3"/>
<line x1="375.3" y1="315.6" x2="375.3" y2="320.4" stroke="#111" stroke-width="1.3"/>
<line x1="467.5" y1="315.6" x2="467.5" y2="320.4" stroke="#111" stroke-width="1.3"/>
<text x="419.7" y="326.6" font-size="9.0" font-weight="bold" text-anchor="middle" dominant-baseline="central" fill="#111" stroke="#111" stroke-width="0.2" >BMS-986126 (mg/kg)</text>
<text x="0" y="0" font-size="10.7" text-anchor="middle" dominant-baseline="central" transform="translate(311.2 241.8) scale(1.05 1) rotate(-90)" fill="#111" stroke="#111" stroke-width="0.4" >Histology Score</text>
<text x="297.7" y="181.0" font-size="15" text-anchor="start" fill="#111" stroke="#111" stroke-width="0.4" >E</text>
</svg></body></html>
